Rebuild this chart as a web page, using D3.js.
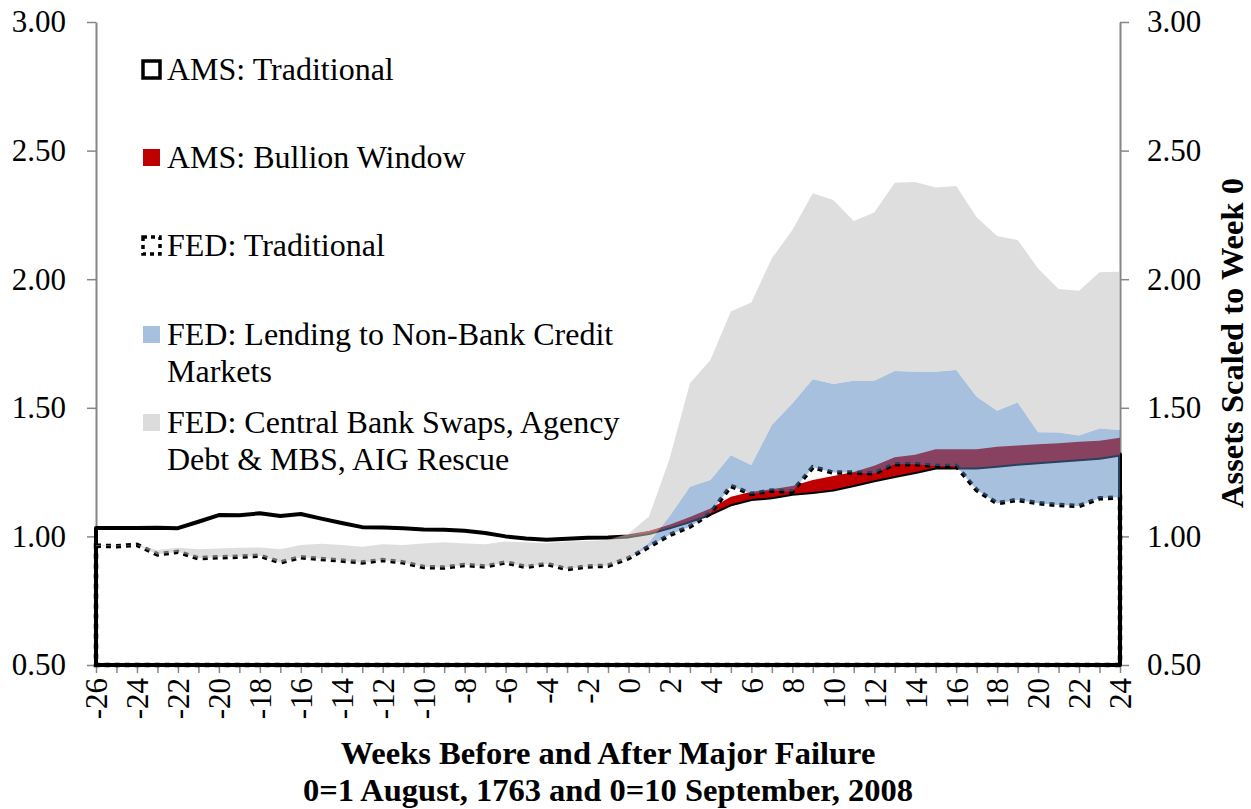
<!DOCTYPE html>
<html>
<head>
<meta charset="utf-8">
<script src="https://cdn.jsdelivr.net/npm/d3@7"></script>
<style>
  body { margin: 0; background: #fff; }
  svg { display: block; font-family: "Liberation Serif", "Times New Roman", serif; }
</style>
</head>
<body>
<svg id="chart" width="1251" height="809"></svg>
<script>
"use strict";

// weeks before/after the failure
const weeks = d3.range(-26, 25);

// AMS 1763 (stacked)
const amsTraditional = [1.033, 1.033, 1.033, 1.034, 1.032, 1.057, 1.083, 1.082, 1.090, 1.079, 1.087, 1.069, 1.052, 1.036,
    1.035, 1.032, 1.027, 1.026, 1.022, 1.013, 1.000, 0.992, 0.987, 0.991, 0.995, 0.996,
    1.000, 1.013, 1.035, 1.060, 1.088, 1.125, 1.145, 1.152, 1.166, 1.173, 1.182, 1.200, 1.218,
    1.235, 1.250, 1.268, 1.268, 1.268, 1.275, 1.282, 1.288, 1.294, 1.300, 1.306, 1.318];
const amsBullion = [0, 0, 0, 0, 0, 0, 0, 0, 0, 0, 0, 0, 0, 0,
    0, 0, 0, 0, 0, 0, 0, 0, 0, 0, 0, 0,
    0.003, 0.008, 0.010, 0.015, 0.020, 0.029, 0.029, 0.031, 0.030, 0.046, 0.053, 0.050, 0.057,
    0.073, 0.067, 0.071, 0.071, 0.071, 0.074, 0.071, 0.070, 0.068, 0.068, 0.066, 0.066];

// FED 2008 (stacked)
const fedTraditional = [0.964, 0.962, 0.967, 0.930, 0.940, 0.915, 0.919, 0.921, 0.925, 0.899, 0.919, 0.912, 0.906, 0.899,
    0.908, 0.899, 0.881, 0.879, 0.889, 0.883, 0.899, 0.881, 0.893, 0.873, 0.883, 0.886,
    0.915, 0.960, 1.005, 1.038, 1.090, 1.196, 1.165, 1.178, 1.174, 1.269, 1.248, 1.248, 1.245,
    1.281, 1.281, 1.274, 1.274, 1.180, 1.129, 1.142, 1.129, 1.122, 1.118, 1.148, 1.152];
const fedLending = [0, 0, 0, 0, 0, 0, 0, 0, 0, 0, 0, 0, 0, 0,
    0, 0, 0, 0, 0, 0, 0, 0, 0, 0, 0, 0,
    0, 0.015, 0.072, 0.155, 0.129, 0.120, 0.113, 0.255, 0.343, 0.342, 0.345, 0.357, 0.360,
    0.362, 0.359, 0.366, 0.373, 0.363, 0.360, 0.379, 0.276, 0.282, 0.274, 0.272, 0.262];
const fedSwaps = [0.003, 0.003, 0.001, 0.017, 0.016, 0.035, 0.034, 0.035, 0.032, 0.051, 0.048, 0.059, 0.061, 0.061,
    0.061, 0.068, 0.091, 0.098, 0.083, 0.086, 0.081, 0.096, 0.080, 0.107, 0.099, 0.100,
    0.095, 0.102, 0.223, 0.402, 0.467, 0.558, 0.631, 0.648, 0.674, 0.723, 0.715, 0.621, 0.654,
    0.732, 0.738, 0.717, 0.715, 0.698, 0.679, 0.631, 0.637, 0.558, 0.563, 0.607, 0.615];

const yTicks = [0.5, 1.0, 1.5, 2.0, 2.5, 3.0];
const legendItems = [
    {key: "amsTrad", lines: ["AMS: Traditional"]},
    {key: "amsBullion", lines: ["AMS: Bullion Window"]},
    {key: "fedTrad", lines: ["FED: Traditional"]},
    {key: "fedLending", lines: ["FED: Lending to Non-Bank Credit", "Markets"]},
    {key: "fedSwaps", lines: ["FED: Central Bank Swaps, Agency", "Debt & MBS, AIG Rescue"]}
];
const xTitle = ["Weeks Before and After Major Failure", "0=1 August, 1763 and 0=10 September, 2008"];
const yTitle = "Assets Scaled to Week 0";

const RED = "#c00000";
const BLUE = "rgba(79,129,189,0.5)";
const GRAY = "rgba(195,195,195,0.55)";
const AXIS = "#868686";
const SERIF = "'Liberation Serif', 'Times New Roman', serif";

const svg = d3.select("#chart");
const plotLeft = 96, plotRight = 1120, plotTop = 22, plotBottom = 665;

const x = d3.scaleLinear().domain([-26, 24]).range([plotLeft, plotRight]);
const y = d3.scaleLinear().domain([0.5, 3]).range([plotBottom, plotTop]).clamp(true);

const amsRows = weeks.map((w, i) => ({week: w, trad: amsTraditional[i], bullion: amsBullion[i]}));
const fedRows = weeks.map((w, i) => ({week: w, trad: fedTraditional[i], lending: fedLending[i], swaps: fedSwaps[i]}));
const amsStack = d3.stack().keys(["trad", "bullion"])(amsRows);
const fedStack = d3.stack().keys(["trad", "lending", "swaps"])(fedRows);

const area = d3.area()
    .x((d) => x(d.data.week))
    .y0((d) => y(d[0]))
    .y1((d) => y(d[1]));

// axes first so the area outlines sit on top
const yLeft = svg.append("g")
    .attr("transform", "translate(" + plotLeft + ",0)")
    .call(d3.axisLeft(y).tickValues(yTicks).tickFormat(d3.format(".2f")).tickSize(9).tickSizeOuter(0).tickPadding(21));
const yRight = svg.append("g")
    .attr("transform", "translate(" + plotRight + ",0)")
    .call(d3.axisRight(y).tickValues(yTicks).tickFormat(d3.format(".2f")).tickSize(9).tickSizeOuter(0).tickPadding(18));
const xAxis = svg.append("g")
    .attr("transform", "translate(0," + plotBottom + ")")
    .call(d3.axisBottom(x).tickValues(weeks).tickFormat((d) => d % 2 === 0 ? d : "").tickSize(8).tickSizeOuter(0));

[yLeft, yRight, xAxis].forEach((g) => {
    g.attr("font-family", null);
    g.select(".domain").attr("stroke", AXIS).attr("stroke-width", 2);
    g.selectAll(".tick line").attr("stroke", AXIS).attr("stroke-width", 1.5);
    g.selectAll(".tick text")
        .attr("fill", "#000")
        .style("font-size", "31px")
        .style("font-family", SERIF);
});
xAxis.select(".domain").attr("stroke", "#000");
xAxis.selectAll(".tick text")
    .attr("transform", "rotate(-90)")
    .attr("x", -13)
    .attr("y", 0)
    .attr("dy", "0.35em")
    .style("text-anchor", "end");

// AMS: traditional outline, bullion on top
svg.append("path")
    .datum(amsStack[0])
    .attr("d", area)
    .attr("fill", "none")
    .attr("stroke", "#000")
    .attr("stroke-width", 4)
    .attr("stroke-linejoin", "round");
svg.append("path")
    .datum(amsStack[1])
    .attr("d", area)
    .attr("fill", RED);

// FED: traditional dotted outline, then translucent stacked layers
svg.append("path")
    .datum(fedStack[0])
    .attr("d", area)
    .attr("fill", "none")
    .attr("stroke", "#000")
    .attr("stroke-width", 4.5)
    .attr("stroke-dasharray", "5,5");
svg.append("path")
    .datum(fedStack[1])
    .attr("d", area)
    .attr("fill", BLUE);
svg.append("path")
    .datum(fedStack[2])
    .attr("d", area)
    .attr("fill", GRAY);

// legend
const legend = svg.append("g").style("font-size", "32px").style("font-family", SERIF);
const legendY = [70, 158, 246, 335, 423];
legendItems.forEach((item, i) => {
    const cy = legendY[i];
    const g = legend.append("g");
    const sw = g.append("rect")
        .attr("x", 143).attr("y", cy - 9)
        .attr("width", 17).attr("height", 17);
    if (item.key === "amsTrad") {
        sw.attr("fill", "none").attr("stroke", "#000").attr("stroke-width", 3.5);
    } else if (item.key === "amsBullion") {
        sw.attr("fill", RED);
    } else if (item.key === "fedTrad") {
        sw.attr("fill", "none").attr("stroke", "#000").attr("stroke-width", 3.5).attr("stroke-dasharray", "4,4");
    } else if (item.key === "fedLending") {
        sw.attr("fill", "#a7c0de");
    } else {
        sw.attr("fill", "#dcdcdc");
    }
    item.lines.forEach((line, j) => {
        g.append("text")
            .attr("x", 167)
            .attr("y", cy + 10 + j * 37)
            .text(line);
    });
});

// axis titles
svg.append("g")
    .selectAll("text")
    .data(xTitle)
    .enter().append("text")
    .attr("x", 608)
    .attr("y", (d, i) => 764 + i * 37)
    .attr("text-anchor", "middle")
    .style("font-family", SERIF)
    .style("font-size", "32.5px")
    .style("font-weight", "bold")
    .text((d) => d);

svg.append("text")
    .attr("transform", "translate(1243,343)rotate(-90)")
    .attr("text-anchor", "middle")
    .style("font-family", SERIF)
    .style("font-size", "32.5px")
    .style("font-weight", "bold")
    .text(yTitle);
</script>
</body>
</html>
